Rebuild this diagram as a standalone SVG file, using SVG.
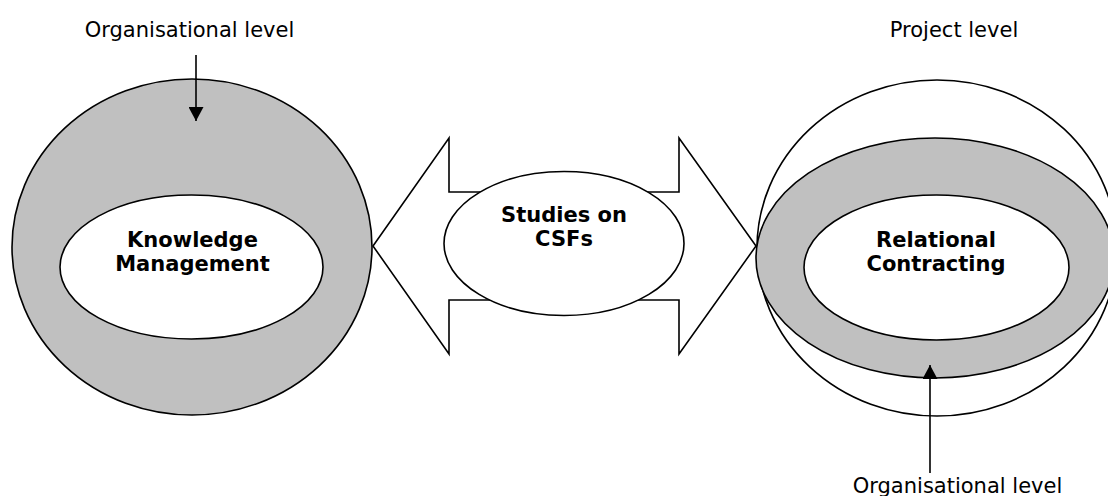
<svg xmlns="http://www.w3.org/2000/svg" width="1108" height="496" viewBox="0 0 1108 496">
<style>
.ln{stroke:#000;stroke-width:1.6}
.gray{fill:#c0c0c0}
.white{fill:#fff}
.lbl{font-family:"DejaVu Sans",Verdana,sans-serif;font-size:21px;fill:#000;text-anchor:middle}
.bold{font-family:"DejaVu Sans",Verdana,sans-serif;font-size:21px;font-weight:bold;fill:#000;text-anchor:middle}
</style>
<defs>
<marker id="ah" viewBox="0 0 14 15" refX="14" refY="7.5" markerWidth="14" markerHeight="15" markerUnits="userSpaceOnUse" orient="auto">
<path d="M0,0 L14,7.5 L0,15 Z" fill="#000"/>
</marker>
</defs>
<rect width="1108" height="496" fill="#fff"/>
<g id="km">
<ellipse class="gray ln" cx="192" cy="247" rx="180" ry="168"/>
<ellipse class="white ln" cx="191.5" cy="267" rx="131.5" ry="72"/>
<text class="bold" x="192.5" y="247">Knowledge</text>
<text class="bold" x="192.5" y="271">Management</text>
</g>
<g id="csf">
<polygon class="white ln" points="373,246 449,138 449,192 679,192 679,138 756,246 679,354 679,300 449,300 449,354"/>
<ellipse class="white ln" cx="564" cy="243.5" rx="120" ry="72"/>
<text class="bold" x="564" y="222">Studies on</text>
<text class="bold" x="564" y="246">CSFs</text>
</g>
<g id="rc">
<ellipse class="white ln" cx="937" cy="248" rx="180" ry="168"/>
<ellipse class="gray ln" cx="935" cy="258" rx="179" ry="120"/>
<ellipse class="white ln" cx="936.5" cy="267.5" rx="132.5" ry="72.5"/>
<text class="bold" x="936" y="247">Relational</text>
<text class="bold" x="936" y="271">Contracting</text>
</g>
<g id="labels">
<text class="lbl" x="189.5" y="37">Organisational level</text>
<text class="lbl" x="954" y="37">Project level</text>
<text class="lbl" x="957.5" y="493">Organisational level</text>
</g>
<g id="connectors">
<line class="ln" x1="196" y1="55" x2="196" y2="121" marker-end="url(#ah)"/>
<line class="ln" x1="930" y1="473" x2="930" y2="365" marker-end="url(#ah)"/>
</g>
</svg>
